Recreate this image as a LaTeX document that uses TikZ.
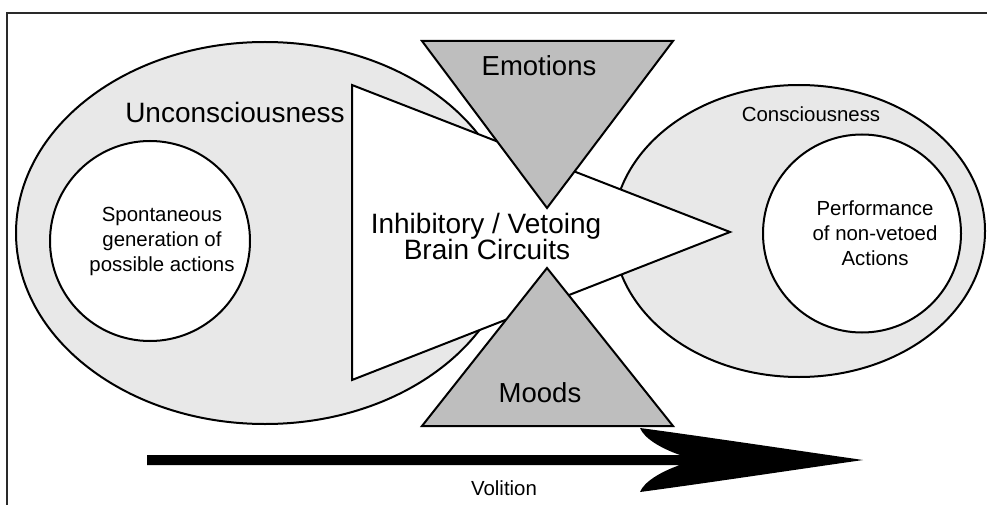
\documentclass[tikz,border=0pt]{standalone}
\usepackage{fontspec}
\setmainfont{Liberation Sans}
\definecolor{lightfill}{HTML}{E8E8E8}
\definecolor{trifill}{HTML}{BEBEBE}
\definecolor{framecol}{HTML}{2A2A2A}
\begin{document}
\begin{tikzpicture}[x=1pt,y=-1pt,
  shapeline/.style={draw=black,line width=2pt,line join=miter},
  bigtxt/.style={inner sep=0pt,font=\fontsize{28}{26}\selectfont},
  smalltxt/.style={inner sep=0pt,font=\fontsize{20.4}{25}\selectfont,align=center}]
\useasboundingbox (0,0) rectangle (987,505);
% frame
\draw[framecol,line width=2.8pt] (7,505) -- (7,13) -- (987,13);
% left ellipse and circle
\filldraw[shapeline,fill=lightfill] (265,233) ellipse [x radius=249,y radius=191];
\filldraw[shapeline,fill=white] (150,241) circle [radius=100];
% right ellipse and circle
\filldraw[shapeline,fill=lightfill] (799,231) ellipse [x radius=186,y radius=146];
\filldraw[shapeline,fill=white] (862,233.5) circle [radius=99];
% white triangle
\filldraw[shapeline,fill=white] (352,85) -- (730,232) -- (352,380) -- cycle;
% gray triangles
\filldraw[shapeline,fill=trifill] (422,41) -- (673,41) -- (547,208) -- cycle;
\filldraw[shapeline,fill=trifill] (547,268) -- (673,426) -- (422,426) -- cycle;
% volition arrow
\fill[black] (147,455) -- (680,455)
  .. controls (660,448) and (644,438) .. (640,428)
  .. controls (700,436) and (800,451) .. (863,460)
  .. controls (800,469) and (700,484) .. (640,492)
  .. controls (644,482) and (660,472) .. (680,465)
  -- (147,465) -- cycle;
% texts
\node[bigtxt,anchor=base] (uncon) at (235,123) {Unconsciousness};
\node[bigtxt,anchor=base,font=\fontsize{27.5}{26}\selectfont] (emo) at (539,76) {Emotions};
\node[bigtxt,anchor=base,font=\fontsize{27.5}{26}\selectfont] (moods) at (540,402) {Moods};
\node[bigtxt,anchor=base] (inhib) at (486,233) {Inhibitory / Vetoing};
\node[bigtxt,anchor=base] (brain) at (487,259) {Brain Circuits};
\node[smalltxt,anchor=base] (con) at (811,122) {Consciousness};
\node[smalltxt] (spont) at (162,241) {Spontaneous\\generation of\\possible actions};
\node[smalltxt] (perf) at (875,233) {Performance\\of non-vetoed\\Actions};
\node[smalltxt,anchor=base] (vol) at (504,495) {Volition};
\end{tikzpicture}
\end{document}
